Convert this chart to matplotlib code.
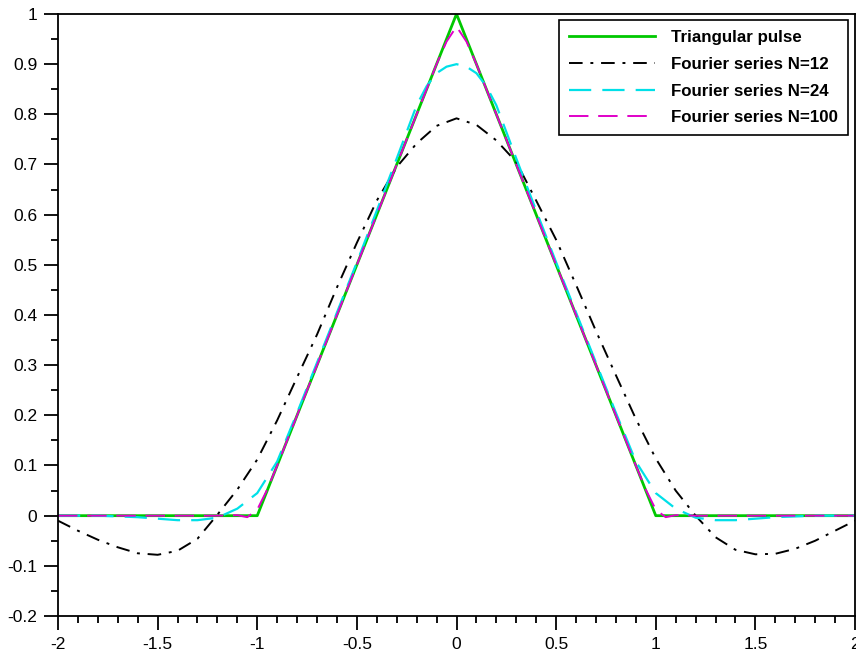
import matplotlib
matplotlib.use("Agg")
import matplotlib.pyplot as plt
from matplotlib.ticker import MultipleLocator

plt.rcParams['font.family'] = ['Liberation Sans', 'DejaVu Sans']
plt.rcParams['axes.unicode_minus'] = False

# triangular pulse
x_tri = [-2, -1, 0, 1, 2]
y_tri = [0, 0, 1, 0, 0]

# Fourier series N=12
x12 = [-2.0, -1.9, -1.8, -1.7, -1.6, -1.5, -1.4, -1.3, -1.2, -1.1, -1.0,
       -0.9, -0.8, -0.7, -0.6, -0.5, -0.4, -0.3, -0.2, -0.1, 0.0,
       0.1, 0.2, 0.3, 0.4, 0.5, 0.6, 0.7, 0.8, 0.9, 1.0,
       1.1, 1.2, 1.3, 1.4, 1.5, 1.6, 1.7, 1.8, 1.9, 2.0]
y12 = [-0.010, -0.030, -0.048, -0.063, -0.075, -0.078, -0.070, -0.046, 0.002, 0.052, 0.112,
       0.190, 0.276, 0.361, 0.455, 0.544, 0.628, 0.695, 0.742, 0.777, 0.792,
       0.779, 0.748, 0.705, 0.628, 0.550, 0.460, 0.368, 0.280, 0.193, 0.114,
       0.050, 0.000, -0.043, -0.068, -0.077, -0.076, -0.066, -0.050, -0.030, -0.010]

# Fourier series N=24
x24 = [-2.0, -1.8, -1.6, -1.5, -1.4, -1.3, -1.2, -1.1, -1.0, -0.9, -0.8, -0.7, -0.6,
       -0.5, -0.4, -0.3, -0.2, -0.15, -0.1, -0.05, 0.0,
       0.05, 0.1, 0.15, 0.2, 0.3, 0.4, 0.5, 0.6, 0.7, 0.8, 0.9, 1.0,
       1.1, 1.2, 1.3, 1.4, 1.5, 1.6, 1.8, 2.0]
y24 = [0.000, 0.000, -0.003, -0.006, -0.009, -0.009, -0.004, 0.014, 0.045, 0.108, 0.205, 0.305, 0.405,
       0.505, 0.608, 0.712, 0.818, 0.856, 0.882, 0.895, 0.900,
       0.895, 0.882, 0.856, 0.818, 0.712, 0.608, 0.505, 0.405, 0.305, 0.205, 0.108, 0.045,
       0.014, -0.004, -0.009, -0.009, -0.006, -0.003, 0.000, 0.000]

# Fourier series N=100
x100 = [-2.0, -1.2, -1.1, -1.05, -1.0, -0.95, -0.9, -0.5, -0.1, -0.05, -0.02, 0.0,
        0.02, 0.05, 0.1, 0.5, 0.9, 0.95, 1.0, 1.05, 1.1, 1.2, 2.0]
y100 = [0.000, 0.000, 0.001, -0.003, 0.012, 0.052, 0.100, 0.500, 0.900, 0.945, 0.963, 0.975,
        0.963, 0.945, 0.900, 0.500, 0.100, 0.052, 0.012, -0.003, 0.001, 0.000, 0.000]

fig = plt.figure(figsize=(8.56, 6.56), dpi=100)
ax = fig.add_axes([58/856, 40/656, 797/856, 602/656])

ax.plot(x_tri, y_tri, color='#00c800', lw=2, label='Triangular pulse')
ax.plot(x12, y12, color='black', lw=1.4, dashes=[7, 4, 1.5, 4], label='Fourier series N=12')
ax.plot(x24, y24, color='#00e0e8', lw=1.6, dashes=[10, 5], label='Fourier series N=24')
ax.plot(x100, y100, color='#e000c8', lw=1.4, dashes=[10, 5], label='Fourier series N=100')

ax.set_xlim(-2, 2)
ax.set_ylim(-0.2, 1)
ax.xaxis.set_major_locator(MultipleLocator(0.5))
ax.xaxis.set_minor_locator(MultipleLocator(0.1))
ax.yaxis.set_major_locator(MultipleLocator(0.1))
ax.yaxis.set_minor_locator(MultipleLocator(0.05))
ax.xaxis.set_major_formatter(plt.FuncFormatter(lambda v, p: ('%g' % round(v, 2))))
ax.yaxis.set_major_formatter(plt.FuncFormatter(lambda v, p: ('%g' % round(v, 2))))
ax.tick_params(which='major', direction='out', length=10, width=1.3, labelsize=12.5, pad=5)
ax.tick_params(which='minor', direction='out', length=5, width=1.3)
for s in ax.spines.values():
    s.set_linewidth(1.3)

leg = ax.legend(loc='upper right', bbox_to_anchor=(0.991, 0.990), borderaxespad=0,
                fancybox=False, edgecolor='black', framealpha=1, handlelength=5.1,
                handletextpad=0.9, labelspacing=0.69, borderpad=0.6,
                prop={'size': 12.2, 'weight': 'bold'})
leg.get_frame().set_linewidth(1.2)

fig.savefig('out.png', dpi=100)
